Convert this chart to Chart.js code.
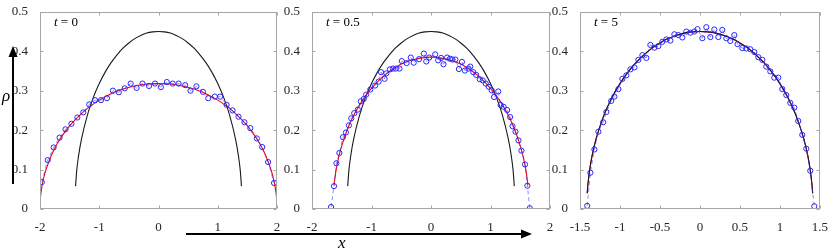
<!DOCTYPE html>
<html>
<head>
<meta charset="utf-8">
<script src="https://cdn.jsdelivr.net/npm/chart.js@4/dist/chart.umd.min.js"></script>
<style>
  body { margin: 0; background: #fff; }
  #wrap { position: relative; width: 831px; height: 250px; overflow: hidden; background: #fff; }
  canvas { position: absolute; top: 0; }
  .lbl { position: absolute; font-family: "Liberation Serif", serif; font-style: italic; font-size: 17px; color: #000; line-height: 1; }
</style>
</head>
<body>
<div id="wrap">
  <canvas id="c1" width="287" height="250" style="left:0px"></canvas>
  <canvas id="c2" width="288" height="250" style="left:272px"></canvas>
  <canvas id="c3" width="291" height="250" style="left:540px"></canvas>
  <svg width="831" height="250" style="position:absolute;left:0;top:0">
    <line x1="13" y1="184" x2="13" y2="55" stroke="#000" stroke-width="2"/>
    <polygon points="13,46 8.5,57 17.5,57" fill="#000"/>
    <line x1="186" y1="234" x2="523" y2="234" stroke="#000" stroke-width="2"/>
    <polygon points="532,234 521,229.5 521,238.5" fill="#000"/>
  </svg>
  <span class="lbl" style="left:2px;top:87px">ρ</span>
  <span class="lbl" style="left:338px;top:234px">x</span>
</div>
<script>
// panel titles
const titles = ['0', '0.5', '5'];

// t = 0 : simulated density (blue circles)
const blueX1 = [-1.97,-1.87,-1.77,-1.67,-1.57,-1.47,-1.37,-1.27,-1.17,-1.07,-0.97,-0.87,-0.77,-0.67,-0.57,-0.47,-0.37,-0.27,-0.16,-0.06,
                0.04,0.14,0.24,0.34,0.45,0.54,0.64,0.75,0.84,0.95,1.04,1.15,1.25,1.35,1.45,1.55,1.66,1.75,1.85,1.95];
const blueY1 = [0.068,0.124,0.156,0.181,0.202,0.216,0.232,0.245,0.265,0.276,0.276,0.281,0.300,0.296,0.306,0.318,0.307,0.318,0.312,0.318,
                0.309,0.322,0.318,0.318,0.314,0.300,0.311,0.297,0.281,0.285,0.285,0.264,0.250,0.234,0.220,0.205,0.179,0.157,0.119,0.066];

// t = 0.5
const blueX2 = [-1.68,-1.63,-1.59,-1.54,-1.48,-1.43,-1.38,-1.34,-1.29,-1.23,-1.18,-1.13,-1.09,-1.02,-0.94,-0.88,-0.84,-0.78,-0.75,-0.69,
                -0.64,-0.59,-0.53,-0.49,-0.41,-0.34,-0.29,-0.20,-0.12,-0.08,-0.03,0.07,0.12,0.17,0.21,0.27,0.32,0.36,0.41,0.47,
                0.52,0.57,0.63,0.66,0.71,0.76,0.82,0.87,0.92,0.97,1.02,1.06,1.13,1.17,1.22,1.28,1.33,1.37,1.42,1.47,
                1.52,1.58,1.62,1.66];
const blueY2 = [0.005,0.058,0.116,0.142,0.182,0.194,0.212,0.230,0.243,0.252,0.273,0.279,0.290,0.303,0.313,0.323,0.347,0.330,0.344,0.354,
                0.356,0.356,0.356,0.375,0.370,0.384,0.371,0.380,0.394,0.374,0.384,0.392,0.377,0.383,0.367,0.384,0.381,0.379,0.379,0.355,
                0.373,0.351,0.356,0.361,0.347,0.340,0.329,0.326,0.318,0.310,0.301,0.284,0.298,0.264,0.259,0.251,0.233,0.210,0.196,0.174,
                0.148,0.113,0.059,0.002];

// t = 5
const blueX3 = [-1.41,-1.37,-1.32,-1.27,-1.21,-1.17,-1.11,-1.07,-1.02,-0.97,-0.92,-0.87,-0.82,-0.77,-0.72,-0.67,-0.62,-0.57,-0.52,-0.47,
                -0.42,-0.37,-0.32,-0.27,-0.22,-0.17,-0.12,-0.07,-0.03,0.03,0.08,0.13,0.18,0.23,0.28,0.33,0.38,0.43,0.47,0.53,
                0.58,0.63,0.68,0.73,0.78,0.83,0.88,0.93,0.98,1.03,1.08,1.13,1.18,1.23,1.28,1.33,1.38,1.43];
const blueY3 = [0.008,0.092,0.151,0.196,0.220,0.246,0.274,0.285,0.304,0.330,0.339,0.354,0.359,0.378,0.390,0.383,0.416,0.409,0.413,0.424,
                0.430,0.427,0.443,0.441,0.435,0.450,0.447,0.450,0.456,0.433,0.461,0.436,0.455,0.436,0.454,0.433,0.426,0.441,0.418,0.408,
                0.407,0.405,0.398,0.385,0.378,0.361,0.349,0.333,0.333,0.304,0.289,0.269,0.257,0.223,0.188,0.153,0.097,0.007];

// red curves
const redX1 = [-1.99,-1.97,-1.95,-1.9,-1.8,-1.7,-1.6,-1.5,-1.4,-1.3,-1.2,-1.1,-1.0,-0.8,-0.6,-0.4,-0.2,0,
               0.2,0.4,0.6,0.8,1.0,1.1,1.2,1.3,1.4,1.5,1.6,1.7,1.8,1.9,1.95,1.97,1.99];
const redY1 = [0.032,0.055,0.071,0.099,0.139,0.168,0.191,0.211,0.227,0.242,0.255,0.266,0.276,0.292,0.304,0.312,0.317,0.318,
               0.317,0.312,0.304,0.292,0.276,0.266,0.255,0.242,0.227,0.211,0.191,0.168,0.139,0.099,0.071,0.055,0.032];
const redX2 = [-1.63,-1.6,-1.55,-1.5,-1.4,-1.3,-1.2,-1.1,-1.0,-0.8,-0.6,-0.4,-0.2,0,
               0.2,0.4,0.6,0.8,1.0,1.1,1.2,1.3,1.4,1.5,1.55,1.6,1.63];
const redY2 = [0.060,0.094,0.132,0.160,0.204,0.237,0.264,0.287,0.306,0.337,0.359,0.374,0.382,0.385,
               0.382,0.374,0.359,0.337,0.306,0.287,0.264,0.237,0.204,0.160,0.132,0.094,0.060];

// black (stationary) curve
const blackX = [-1.40,-1.38,-1.35,-1.3,-1.2,-1.1,-1.0,-0.9,-0.8,-0.7,-0.6,-0.5,-0.4,-0.3,-0.2,-0.1,0,
                0.1,0.2,0.3,0.4,0.5,0.6,0.7,0.8,0.9,1.0,1.1,1.2,1.3,1.35,1.38,1.40];
const blackY = [0.058,0.098,0.134,0.177,0.238,0.283,0.318,0.347,0.371,0.391,0.408,0.421,0.432,0.440,0.446,0.449,0.450,
                0.449,0.446,0.440,0.432,0.421,0.408,0.391,0.371,0.347,0.318,0.283,0.238,0.177,0.134,0.098,0.058];
const blackX3 = [-1.41,-1.40,-1.38,-1.35,-1.3,-1.2,-1.1,-1.0,-0.9,-0.8,-0.7,-0.6,-0.5,-0.4,-0.3,-0.2,-0.1,0,
                 0.1,0.2,0.3,0.4,0.5,0.6,0.7,0.8,0.9,1.0,1.1,1.2,1.3,1.35,1.38,1.40,1.41];
const blackY3 = [0.040,0.064,0.098,0.134,0.177,0.238,0.283,0.318,0.347,0.371,0.391,0.408,0.421,0.432,0.440,0.446,0.449,0.450,
                 0.449,0.446,0.440,0.432,0.421,0.408,0.391,0.371,0.347,0.318,0.283,0.238,0.177,0.134,0.098,0.064,0.040];

const pts = (xs, ys) => xs.map((x, i) => ({x: x, y: ys[i]}));
const FONT = '"Liberation Serif", "Times New Roman", serif';
const fmt = v => String(Math.round(v * 10) / 10);

// box round the plot, inward ticks, t = ... label
const framePlugin = {
  id: 'frame',
  afterDraw(chart) {
    const {ctx, chartArea: a} = chart;
    const xs = chart.scales.x, ys = chart.scales.y;
    const L = Math.round(a.left) + 0.5, R = Math.round(a.right) - 0.5;
    const T = Math.round(a.top) + 0.5, B = Math.round(a.bottom) - 0.5;
    ctx.save();
    ctx.strokeStyle = '#a6a6a6';
    ctx.lineWidth = 1;
    ctx.strokeRect(L, T, R - L, B - T);
    ctx.beginPath();
    xs.ticks.forEach(t => {
      const p = Math.round(xs.getPixelForValue(t.value)) + 0.5;
      ctx.moveTo(p, B); ctx.lineTo(p, B - 3);
      ctx.moveTo(p, T); ctx.lineTo(p, T + 3);
    });
    ys.ticks.forEach(t => {
      const p = Math.round(ys.getPixelForValue(t.value)) + 0.5;
      ctx.moveTo(L, p); ctx.lineTo(L + 3, p);
      ctx.moveTo(R, p); ctx.lineTo(R - 3, p);
    });
    ctx.stroke();
    const txt = chart.options.plugins.frame.title;
    ctx.fillStyle = '#000';
    ctx.textBaseline = 'alphabetic';
    ctx.font = 'italic 13px ' + FONT;
    let x0 = a.left + 14;
    ctx.fillText('t', x0, a.top + 14);
    x0 += ctx.measureText('t').width;
    ctx.font = '13px ' + FONT;
    ctx.fillText(' = ' + txt, x0, a.top + 14);
    ctx.restore();
  }
};

function makePanel(id, title, xMin, xMax, step, blue, red, black, blackOnTop) {
  const blueSet = {
    data: blue, showLine: true, borderColor: 'rgba(40,40,255,0.75)', borderWidth: 0.7, borderDash: [4, 3],
    pointStyle: 'circle', pointRadius: 2.6, pointBorderWidth: 1, pointBorderColor: '#2626ff',
    pointBackgroundColor: 'rgba(0,0,0,0)'
  };
  const redSet = {
    data: red, showLine: true, borderColor: '#ff0000', borderWidth: 1.1, pointRadius: 0,
    cubicInterpolationMode: 'monotone'
  };
  const blackSet = {
    data: black, showLine: true, borderColor: '#1a1a1a', borderWidth: 1.1, pointRadius: 0,
    cubicInterpolationMode: 'monotone'
  };
  // first dataset is drawn on top
  const sets = blackOnTop ? [blueSet, blackSet, redSet] : [blueSet, redSet, blackSet];
  new Chart(document.getElementById(id).getContext('2d'), {
    type: 'scatter',
    data: { datasets: sets },
    options: {
      responsive: false,
      animation: false,
      devicePixelRatio: 1,
      layout: { padding: { top: 7, right: 10, left: 0, bottom: 0 } },
      plugins: { legend: { display: false }, tooltip: { enabled: false }, frame: { title: title } },
      scales: {
        x: {
          type: 'linear', min: xMin, max: xMax,
          grid: { display: false }, border: { display: false },
          ticks: { stepSize: step, color: '#262626', font: { family: FONT, size: 13 }, padding: 3,
                   maxRotation: 0, callback: fmt },
          afterFit: s => { s.height = 41; }
        },
        y: {
          type: 'linear', min: 0, max: 0.5,
          grid: { display: false }, border: { display: false },
          ticks: { stepSize: 0.1, color: '#262626', font: { family: FONT, size: 13 }, padding: 4, callback: fmt },
          afterFit: s => { s.width = 40; }
        }
      }
    },
    plugins: [framePlugin]
  });
}

function drawAll() {
  makePanel('c1', titles[0], -2, 2, 1, pts(blueX1, blueY1), pts(redX1, redY1), pts(blackX, blackY), false);
  makePanel('c2', titles[1], -2, 2, 1, pts(blueX2, blueY2), pts(redX2, redY2), pts(blackX, blackY), false);
  makePanel('c3', titles[2], -1.5, 1.5, 0.5, pts(blueX3, blueY3), pts(blackX3, blackY3), pts(blackX3, blackY3), true);
}

Promise.all([
  document.fonts.load('13px "Liberation Serif"'),
  document.fonts.load('italic 13px "Liberation Serif"')
]).then(drawAll, drawAll);
</script>
</body>
</html>
